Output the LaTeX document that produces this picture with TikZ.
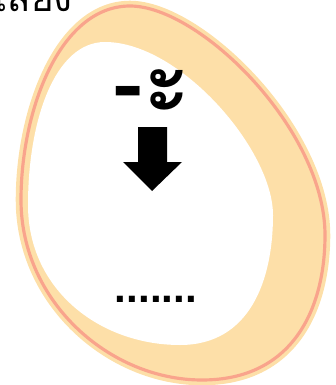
\documentclass[tikz,border=0pt]{standalone}
\usepackage{fontspec}
\newfontfamily\thaifont[Script=Thai]{Loma}
\newfontfamily\dotfont{Liberation Sans}
\usetikzlibrary{positioning}
\definecolor{peach}{HTML}{FDDFA8}
\definecolor{ringred}{HTML}{F9A48C}

\begin{document}
\begin{tikzpicture}[
        x=0.02cm, y=-0.02cm,
        label/.style={inner sep=0pt, font=\thaifont},
        eggring/.style={fill=peach, draw=peach, line width=6pt},
        eggline/.style={draw=ringred, line width=1.8pt},
        blockarrow/.style={fill=black}
    ]
        \useasboundingbox (0,0) rectangle (335,385);
        % outer shell, drawn from the ring line
        \path[eggring] (130,6) .. controls (60,6) and (21,110) .. (21,200)
            .. controls (21,302) and (110,380) .. (202,380)
            .. controls (292,380) and (325,310) .. (325,235)
            .. controls (325,130) and (200,6) .. cycle;
        \draw[eggline] (130,6) .. controls (60,6) and (21,110) .. (21,200)
            .. controls (21,302) and (110,380) .. (202,380)
            .. controls (292,380) and (325,310) .. (325,235)
            .. controls (325,130) and (200,6) .. cycle;
        % white inside
        \fill[white] (105,42) .. controls (55,42) and (28,120) .. (28,205)
            .. controls (28,290) and (100,345) .. (180,345)
            .. controls (250,345) and (273,280) .. (273,215)
            .. controls (273,150) and (180,42) .. cycle;

        \node[label, font=\thaifont\fontsize{22}{24}\selectfont, anchor=base west] (title) at (-6,12) {เสียง};
        \node[label, font=\thaifont\bfseries\fontsize{50}{54}\selectfont] (vowel) at (152,92) {-ะ};
        \fill[blockarrow] (138,127) -- (167,127) -- (167,162) -- (182,162) -- (152,191)
            -- (123,162) -- (138,162) -- cycle;
        \node[label, font=\dotfont\bfseries\fontsize{24}{26}\selectfont] (dots) at (156,299) {.......};
    \end{tikzpicture}
\end{document}
